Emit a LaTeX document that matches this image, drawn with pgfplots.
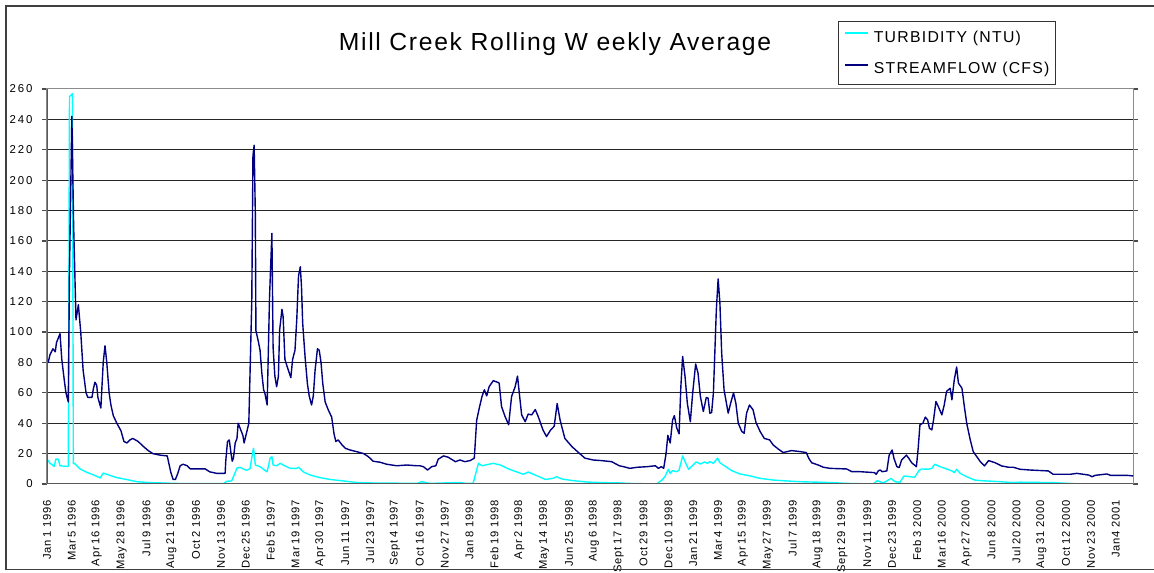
\documentclass[border=0pt]{standalone}
\usepackage{fontspec}
\setmainfont{Liberation Sans}
\newfontfamily\titlefamily[LetterSpace=6.8]{Liberation Sans}
\newfontfamily\legendfamily[LetterSpace=8]{Liberation Sans}
\newfontfamily\yfamily[LetterSpace=17]{Liberation Sans}
\newfontfamily\xfamily[LetterSpace=7,WordSpace=0.8]{Liberation Sans}
\newcommand\titlefont{\titlefamily\fontsize{12.35}{14}\selectfont}
\newcommand\legfont{\legendfamily\fontsize{7.9}{9}\selectfont}
\newcommand\ytickfont{\yfamily\fontsize{5.7}{6.5}\selectfont}
\newcommand\xtickfont{\xfamily\fontsize{5.6}{6.5}\selectfont}
\usepackage{pgfplots}
\pgfplotsset{compat=1.18}
\usepackage{pgfplotstable}

\definecolor{flowblue}{HTML}{000080}
\definecolor{turbcyan}{HTML}{00FFFF}

% Rolling weekly averages; day = days since Jan 1 1996 (category index)
\pgfplotstableread{
day ntu
0 16.4
5 13.8
12 11.6
15 16.4
19 16.4
22 12
33 11.6
36 11.8
38 255
41 256
43 257
44.5 13.4
47 13.4
56 9.9
67 7.7
78 6.1
90 4
95 7.2
106 5.7
118 4.2
135 2.9
152 1.5
174 0.9
236 0.2
298 0.2
304 1.8
312 2
321 10.5
326 11
337 9
343 10
348 22
349 23.5
352 12.5
360 11.4
368 9
372 8
377 17
380 18
382 12.5
388 12
394 13.6
399 12.5
411 10.3
422 10.3
425 11
433 8
444 6
461 4.2
478 3
501 2
523 1
546 0.7
625 0.4
633 1.5
647 0.4
698 1
706 0.4
720 0.5
723 4.8
729 13.6
735 12
743 12.7
754 13.6
766 12.5
780 9.9
794 7.9
805 6.4
813 7.9
825 5.9
842 3
855 3.7
861 4.8
870 3.3
889 2.2
912 1.3
940 0.9
968 0.7
981 0.4
1030 0
1039 2.6
1044 4.8
1050 9.7
1053 7
1057 8.8
1064 8.1
1068 9.2
1074 18.5
1078 14.7
1084 9.7
1090 11.9
1097 14.5
1104 13.2
1111 14.5
1116 13.6
1120 14.7
1126 13.6
1133 17
1137 14
1145 11.9
1157 8.8
1171 6.6
1188 5.3
1205 3.7
1227 2.6
1250 2
1273 1.5
1328 0.9
1351 0.4
1396 0
1403 2.2
1411 0.9
1416 1.3
1426 3.7
1433 1.5
1441 1.1
1448 5.3
1458 4.8
1466 4.4
1474 9.2
1478 9.9
1489 9.7
1495 10.3
1500 13
1509 11.4
1520 9.9
1529 8.6
1533 7.5
1537 9.7
1543 7
1554 4.8
1565 3
1568 2.6
1577 2.2
1588 2
1611 1.5
1633 0.9
1644 1.2
1700 0.9
1746 0
1835 0
}\turbidity

\pgfplotstableread{
day cfs
0 82
2 80
5 85
10 89
14 87
16 93
22 99
25 82
29 69
32 60
36 54
38 140
42 242
45 170
49 108
53 118
57 100
61 75
66 60
69 57
76 57
78 62
81 67
84 65
86 57
91 50
95 80
98 91
101 80
105 60
108 52
112 45
118 40
125 35
130 28
135 27
140 29
145 30
154 28
162 25
171 22
179 20
191 19
203 18.5
204 17
209 8
213 3
217 3
221 7
225 12
230 13
237 12
242 10
267 10
275 8
287 7
301 7
302 15
305 28
308 29
311 20
313 15
315 17
318 27
321 30
323 40
326 37
331 32
333 27
338 35
341 40
346 120
348 216
350 223
352 178
353 101
357 94
360 88
363 73
366 62
368 60
372 52
376 123
380 165
382 90
385 71
388 64
391 71
393 101
397 115
399 110
402 82
406 77
412 70
415 82
419 88
422 108
425 137
428 143
430 130
432 106
436 84
440 66
443 58
447 52
450 58
453 75
457 89
460 88
463 80
466 66
470 54
475 49
481 44
485 33
488 28
492 29
498 26
504 23.5
512 22.4
526 21
535 20
543 18
551 15
563 14.3
574 13
591 12
608 12.5
625 12
630 12
636 11.4
643 9.2
650 11.4
657 12
661 16.3
670 18.5
678 17.6
690 14.7
698 15.8
706 14.7
715 15.4
722 17
726 42
731 51
735 57.6
739 62
743 58
747 64
754 68
761 67
764 66.4
768 51
774 44.4
780 39
785 57.6
791 64
795 71
798 60
802 45.5
808 41
813 46
819 45.5
825 49
830 44.4
838 35.6
844 31.2
851 35.6
857 38
862 53
867 42
875 30
887 24.6
898 20.7
909 17
923 15.8
937 15.4
954 14.7
967 12
974 11.4
985 10.3
997 11
1014 11.4
1028 12
1033 10.3
1038 11.4
1042 10.3
1046 20
1049 32
1053 27
1057 42
1060 45
1064 37
1068 33
1071 64
1074 84
1078 71
1082 53
1087 41
1091 60
1096 79
1100 73
1104 57.6
1109 47.7
1114 57
1117 56.5
1120 46.6
1123 47
1126 60
1131 115
1134 135
1137 119
1140 86
1144 62
1149 51
1151 46.6
1155 53
1160 60
1164 53
1168 40
1174 34.5
1178 33.4
1182 46.6
1187 52
1193 48.8
1198 40.4
1205 34.5
1212 30
1221 29
1227 25.7
1236 22.9
1244 20.7
1258 22
1273 21.3
1283 20.7
1287 17
1292 14
1303 12.5
1312 11
1323 10.3
1351 9.9
1360 8.1
1374 8.1
1398 7.5
1401 6.4
1405 8.8
1408 9.2
1411 8.1
1419 8.6
1423 19
1428 22.4
1431 17
1436 11.4
1440 10.8
1444 15.8
1452 19
1456 17
1461 14
1469 11.4
1472 23.5
1475 39
1480 40
1484 44
1488 42.2
1491 36.7
1495 35.6
1498 42.2
1502 54.3
1506 51
1512 45.5
1516 52
1520 61
1526 63
1529 55.4
1533 68.6
1537 77
1540 66.4
1546 63
1550 51
1554 40
1560 29
1565 21.3
1571 18
1577 14.7
1584 11.9
1591 15.4
1602 14
1613 11.9
1625 11
1633 11
1644 9.7
1661 9.2
1692 8.6
1700 6.4
1729 6.4
1740 7
1760 5.9
1766 4.8
1771 5.7
1791 6.6
1797 5.7
1825 5.7
1835 5.3
}\streamflow

\begin{document}
\begin{tikzpicture}
\begin{axis}[
  scale only axis,
  width=543pt, height=197.5pt,
  xmin=0, xmax=1835, ymin=0, ymax=260,
  ytick={0,20,...,260},
  xtick={0,42,...,1806},
  xticklabels={Jan 1 1996, Mar 5 1996, Apr 16 1996, May 28 1996, Jul 9 1996,
    Aug 21 1996, Oct 2 1996, Nov 13 1996, Dec 25 1996, Feb 5 1997, Mar 19 1997,
    Apr 30 1997, Jun 11 1997, Jul 23 1997, Sept 4 1997, Oct 16 1997, Nov 27 1997,
    Jan 8 1998, Feb 19 1998, Apr 2 1998, May 14 1998, Jun 25 1998, Aug 6 1998,
    Sept 17 1998, Oct 29 1998, Dec 10 1998, Jan 21 1999, Mar 4 1999, Apr 15 1999,
    May 27 1999, Jul 7 1999, Aug 18 1999, Sept 29 1999, Nov 11 1999, Dec 23 1999,
    Feb 3 2000, Mar 16 2000, Apr 27 2000, Jun 8 2000, Jul 20 2000, Aug 31 2000,
    Oct 12 2000, Nov 23 2000, Jan4 2001},
  ymajorgrids,
  grid style={black!85, line width=0.5pt},
  axis line style={black!45, line width=0.5pt},
  tick align=outside,
  major tick length=2.5pt,
  ytick style={black!70, line width=0.6pt},
  xtick style={draw=none},
  /pgf/number format/assume math mode=true,
  yticklabel style={font=\ytickfont, anchor=east, inner sep=0pt, xshift=-4.5pt},
  xticklabel style={font=\xtickfont, yshift=-5.5pt, rotate=90, anchor=east, inner sep=0pt},
  title={Mill Creek Rolling W eekly Average},
  every axis title shift=0pt,
  title style={font=\titlefont, at={(0.4678,1.0987)}, anchor=base, inner sep=0pt},
  legend style={at={(0.7286,1.1729)}, anchor=north west, draw=black!80,
    line width=0.5pt, fill=white, inner xsep=2.85pt, inner ysep=3.5pt,
    font=\legfont, row sep=6.8pt, column sep=2.5pt,
    nodes={inner sep=0pt, text height=7pt, text depth=2pt}},
  legend cell align=left,
  legend image code/.code={\draw[#1, line width=0.8pt] (0pt,2pt) -- (11.35pt,2pt);},
]
\addplot[turbcyan, line width=0.7pt, line join=round] table[x=day, y=ntu] {\turbidity};
\addlegendentry{TURBIDITY (NTU)}
\addplot[flowblue, line width=0.7pt, line join=round] table[x=day, y=cfs] {\streamflow};
\addlegendentry{STREAMFLOW (CFS)}
% darker value and category axes
\draw[black!65, line width=0.9pt] (rel axis cs:0,1) -- (rel axis cs:0,0) -- (rel axis cs:1,0);
\end{axis}
\pgfresetboundingbox
\useasboundingbox (-23.5pt,-44pt) rectangle (553.5pt,242pt);
\draw[black!75, line width=0.6pt] (553.5pt,239pt) -- (-20.5pt,239pt) -- (-20.5pt,-42.75pt) -- (553.5pt,-42.75pt);
\end{tikzpicture}
\end{document}
